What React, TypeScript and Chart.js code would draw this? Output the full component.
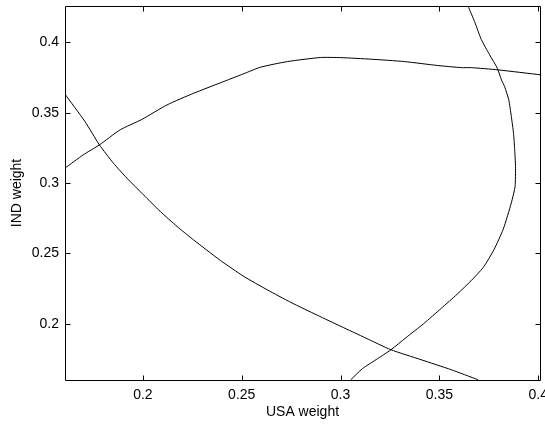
import React, { useEffect, useRef } from "react";
import { Chart, registerables } from "chart.js";

Chart.register(...registerables);

// Curve 1: upper arc (left edge to right edge)
const curve1Usa = [0.1606, 0.1698, 0.1780, 0.1885, 0.1995, 0.2122, 0.2257, 0.2392, 0.2511, 0.2595, 0.2731, 0.2900, 0.3002, 0.3154, 0.3323, 0.3492, 0.3611, 0.3661, 0.3797, 0.4017];
const curve1Ind = [0.3106, 0.3200, 0.3271, 0.3378, 0.3452, 0.3555, 0.3638, 0.3712, 0.3777, 0.3823, 0.3863, 0.3892, 0.3891, 0.3880, 0.3863, 0.3835, 0.3820, 0.3820, 0.3804, 0.3768];

// Curve 2: descending curve (top-left to bottom-right)
const curve2Usa = [0.1606, 0.1707, 0.1780, 0.1851, 0.1919, 0.2003, 0.2088, 0.2173, 0.2257, 0.2392, 0.2511, 0.2629, 0.2748, 0.2883, 0.3002, 0.3128, 0.3255, 0.3408, 0.3560, 0.3695];
const curve2Ind = [0.3631, 0.3437, 0.3271, 0.3141, 0.3035, 0.2916, 0.2798, 0.2691, 0.2595, 0.2450, 0.2336, 0.2241, 0.2152, 0.2060, 0.1981, 0.1898, 0.1815, 0.1744, 0.1673, 0.1602];

// Curve 3: right-hand curve (top to bottom)
const curve3Usa = [0.3645, 0.3678, 0.3712, 0.3754, 0.3793, 0.3814, 0.3830, 0.3851, 0.3864, 0.3875, 0.3881, 0.3885, 0.3883, 0.3868, 0.3852, 0.3822, 0.3776, 0.3722, 0.3660, 0.3590, 0.3510, 0.3420, 0.3330, 0.3255, 0.3180, 0.3110, 0.3052];
const curve3Ind = [0.4258, 0.4147, 0.4020, 0.3911, 0.3816, 0.3733, 0.3685, 0.3591, 0.3472, 0.3354, 0.3236, 0.3117, 0.2975, 0.2881, 0.2800, 0.2668, 0.2526, 0.2400, 0.2305, 0.2210, 0.2110, 0.2000, 0.1900, 0.1815, 0.1745, 0.1680, 0.1602];

const xTicks = [0.2, 0.25, 0.3, 0.35, 0.4];
const yTicks = [0.2, 0.25, 0.3, 0.35, 0.4];
const xTickLabels = ["0.2", "0.25", "0.3", "0.35", "0.4"];
const yTickLabels = ["0.2", "0.25", "0.3", "0.35", "0.4"];
const xRange = [0.1606, 0.4009];
const yRange = [0.16, 0.4258];
const xTitle = "USA weight";
const yTitle = "IND weight";

const FONT = "'Liberation Sans', Arial, Helvetica, sans-serif";

function pts(xs: number[], ys: number[]) {
  return xs.map((x, i) => ({ x, y: ys[i] }));
}

const boxPlugin = {
  id: "matlabBox",
  afterDraw(chart: any) {
    const { ctx, chartArea: a, scales } = chart;
    const L = Math.round(a.left) + 0.5;
    const R = Math.round(a.right) + 0.5;
    const T = Math.round(a.top) + 0.5;
    const B = Math.round(a.bottom) + 0.5;
    const len = 5;
    ctx.save();
    ctx.strokeStyle = "#000";
    ctx.lineWidth = 1;
    ctx.beginPath();
    ctx.rect(L, T, R - L, B - T);
    for (const v of xTicks) {
      const px = Math.round(scales.x.getPixelForValue(v)) + 0.5;
      ctx.moveTo(px, B);
      ctx.lineTo(px, B - len);
      ctx.moveTo(px, T);
      ctx.lineTo(px, T + len);
    }
    for (const v of yTicks) {
      const py = Math.round(scales.y.getPixelForValue(v)) + 0.5;
      ctx.moveTo(L, py);
      ctx.lineTo(L + len, py);
      ctx.moveTo(R, py);
      ctx.lineTo(R - len, py);
    }
    ctx.stroke();
    ctx.restore();
  },
};

export default function App() {
  const ref = useRef<HTMLCanvasElement | null>(null);

  useEffect(() => {
    if (!ref.current) return;
    const lineStyle = {
      showLine: true,
      borderColor: "#000",
      borderWidth: 1,
      pointRadius: 0,
      pointHoverRadius: 0,
      fill: false,
      tension: 0.2,
    };
    const chart = new Chart(ref.current, {
      type: "scatter",
      data: {
        datasets: [
          { ...lineStyle, data: pts(curve1Usa, curve1Ind) },
          { ...lineStyle, data: pts(curve2Usa, curve2Ind) },
          { ...lineStyle, data: pts(curve3Usa, curve3Ind) },
        ],
      },
      options: {
        responsive: false,
        animation: false,
        devicePixelRatio: 1,
        layout: { padding: { top: 6, right: 5, left: 0, bottom: 0 } },
        plugins: { legend: { display: false }, tooltip: { enabled: false } },
        scales: {
          x: {
            type: "linear",
            min: xRange[0],
            max: xRange[1],
            grid: { display: false, drawTicks: false },
            border: { display: false },
            afterBuildTicks: (s: any) => {
              s.ticks = xTicks.map((v) => ({ value: v }));
            },
            afterFit: (s: any) => {
              s.height = 44;
              s.paddingLeft = 0;
              s.paddingRight = 0;
            },
            ticks: {
              padding: 7,
              color: "#000",
              font: { family: FONT, size: 14 },
              maxRotation: 0,
              autoSkip: false,
              callback: (v: any) => {
                const i = xTicks.findIndex((t) => Math.abs(t - Number(v)) < 1e-9);
                return i >= 0 ? xTickLabels[i] : "";
              },
            },
            title: {
              display: true,
              text: xTitle,
              color: "#000",
              font: { family: FONT, size: 14 },
              padding: { top: 0, bottom: 3 },
            },
          },
          y: {
            type: "linear",
            min: yRange[0],
            max: yRange[1],
            grid: { display: false, drawTicks: false },
            border: { display: false },
            afterBuildTicks: (s: any) => {
              s.ticks = yTicks.map((v) => ({ value: v }));
            },
            afterFit: (s: any) => {
              s.width = 65;
              s.paddingTop = 0;
              s.paddingBottom = 0;
            },
            ticks: {
              padding: 6,
              color: "#000",
              font: { family: FONT, size: 14 },
              autoSkip: false,
              callback: (v: any) => {
                const i = yTicks.findIndex((t) => Math.abs(t - Number(v)) < 1e-9);
                return i >= 0 ? yTickLabels[i] : "";
              },
            },
            title: {
              display: true,
              text: yTitle,
              color: "#000",
              font: { family: FONT, size: 14 },
              padding: { top: 9, bottom: 0 },
            },
          },
        },
      },
      plugins: [boxPlugin],
    });
    return () => chart.destroy();
  }, []);

  return (
    <div style={{ position: "absolute", left: 0, top: 0, width: 545, height: 424, background: "#fff" }}>
      <canvas ref={ref} width={545} height={424} style={{ display: "block", width: 545, height: 424 }} />
    </div>
  );
}
